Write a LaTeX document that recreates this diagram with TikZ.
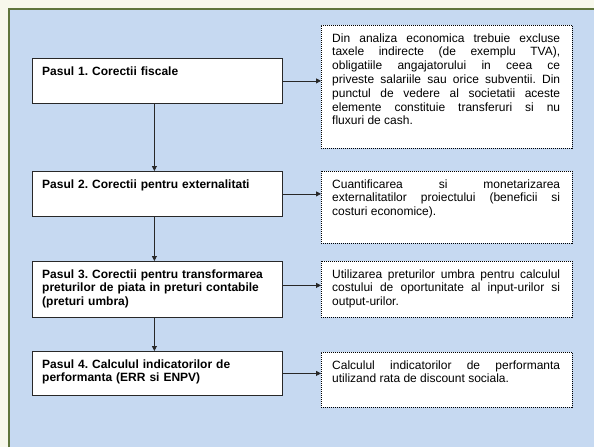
\documentclass[tikz,border=0pt]{standalone}
\usepackage{fontspec}
\setmainfont{Liberation Sans}
\usetikzlibrary{arrows.meta}
\definecolor{bgblue}{RGB}{198,217,241}
\definecolor{outerbg}{RGB}{247,248,236}
\definecolor{framegreen}{RGB}{95,117,60}
\definecolor{linegray}{RGB}{40,40,40}
\tolerance=10000
\hbadness=10000
\frenchspacing
\begin{document}
\begin{tikzpicture}[x=1pt,y=-1pt,
  stepbox/.style={draw=linegray, line width=0.8pt, fill=white, rectangle, inner sep=0pt, minimum width=250pt, anchor=north west},
  notebox/.style={draw=black, line width=0.9pt, dash pattern=on 1pt off 1pt, fill=white, rectangle, inner sep=0pt, minimum width=251pt, anchor=north west},
  steptext/.style={anchor=base west, inner sep=0pt, text width=238pt, align=left, font=\bfseries\fontsize{12}{13.8}\selectfont},
  notetext/.style={anchor=base west, inner sep=0pt, text width=228pt, align=justify, font=\fontsize{12}{13.8}\selectfont},
  flow/.style={draw=linegray, line width=0.8pt, -{Triangle[length=5pt,width=5pt]}}]
\useasboundingbox (0,0) rectangle (594,447);
\fill[outerbg] (0,0) rectangle (594,447);
\fill[bgblue] (9,9) rectangle (594,447);
\draw[framegreen, line width=1.5pt] (9,447) -- (9,9) -- (594,9);

\node[stepbox, minimum height=45pt] (s1) at (32,58) {};
\node[stepbox, minimum height=45pt] (s2) at (32,171) {};
\node[stepbox, minimum height=56pt] (s3) at (32,261) {};
\node[stepbox, minimum height=44pt] (s4) at (32,351) {};

\node[notebox, minimum height=123pt] (n1) at (321,25) {};
\node[notebox, minimum height=72pt] (n2) at (321,171) {};
\node[notebox, minimum height=56pt] (n3) at (321,261) {};
\node[notebox, minimum height=55pt] (n4) at (321,352) {};

\node[steptext] (t1) at ([shift={(10pt,-17pt)}]s1.north west) {Pasul 1. Corectii fiscale};
\node[steptext] (t2) at ([shift={(10pt,-17pt)}]s2.north west) {Pasul 2. Corectii pentru externalitati};
\node[steptext] (t3) at ([shift={(10pt,-17pt)}]s3.north west) {Pasul 3. Corectii pentru transformarea\\ preturilor de piata in preturi contabile\\ (preturi umbra)};
\node[steptext] (t4) at ([shift={(10pt,-17pt)}]s4.north west) {Pasul 4. Calculul indicatorilor de\\ performanta (ERR si ENPV)};

\node[notetext] (u1) at ([shift={(11pt,-17pt)}]n1.north west) {Din analiza economica trebuie excluse\linebreak taxele indirecte (de exemplu TVA),\linebreak obligatiile angajatorului in ceea ce\linebreak priveste salariile sau orice subventii. Din\linebreak punctul de vedere al societatii aceste\linebreak elemente constituie transferuri si nu\linebreak fluxuri de cash.};
\node[notetext] (u2) at ([shift={(11pt,-17pt)}]n2.north west) {Cuantificarea si monetarizarea\linebreak externalitatilor proiectului (beneficii si\linebreak costuri economice).};
\node[notetext] (u3) at ([shift={(11pt,-17pt)}]n3.north west) {Utilizarea preturilor umbra pentru calculul\linebreak costului de oportunitate al input-urilor si\linebreak output-urilor.};
\node[notetext] (u4) at ([shift={(11pt,-17pt)}]n4.north west) {Calculul indicatorilor de performanta\linebreak utilizand rata de discount sociala.};

\draw[flow] ([xshift=-3pt]s1.south) -- ([xshift=-3pt]s2.north);
\draw[flow] ([xshift=-3pt]s2.south) -- ([xshift=-3pt]s3.north);
\draw[flow] ([xshift=-3pt]s3.south) -- ([xshift=-3pt]s4.north);

\draw[flow] (s1.east) -- (s1.east -| n1.west);
\draw[flow] (s2.east) -- (s2.east -| n2.west);
\draw[flow] ([yshift=4pt]s3.east) -- ([yshift=4pt]s3.east -| n3.west);
\draw[flow] (s4.east) -- (s4.east -| n4.west);
\end{tikzpicture}
\end{document}
